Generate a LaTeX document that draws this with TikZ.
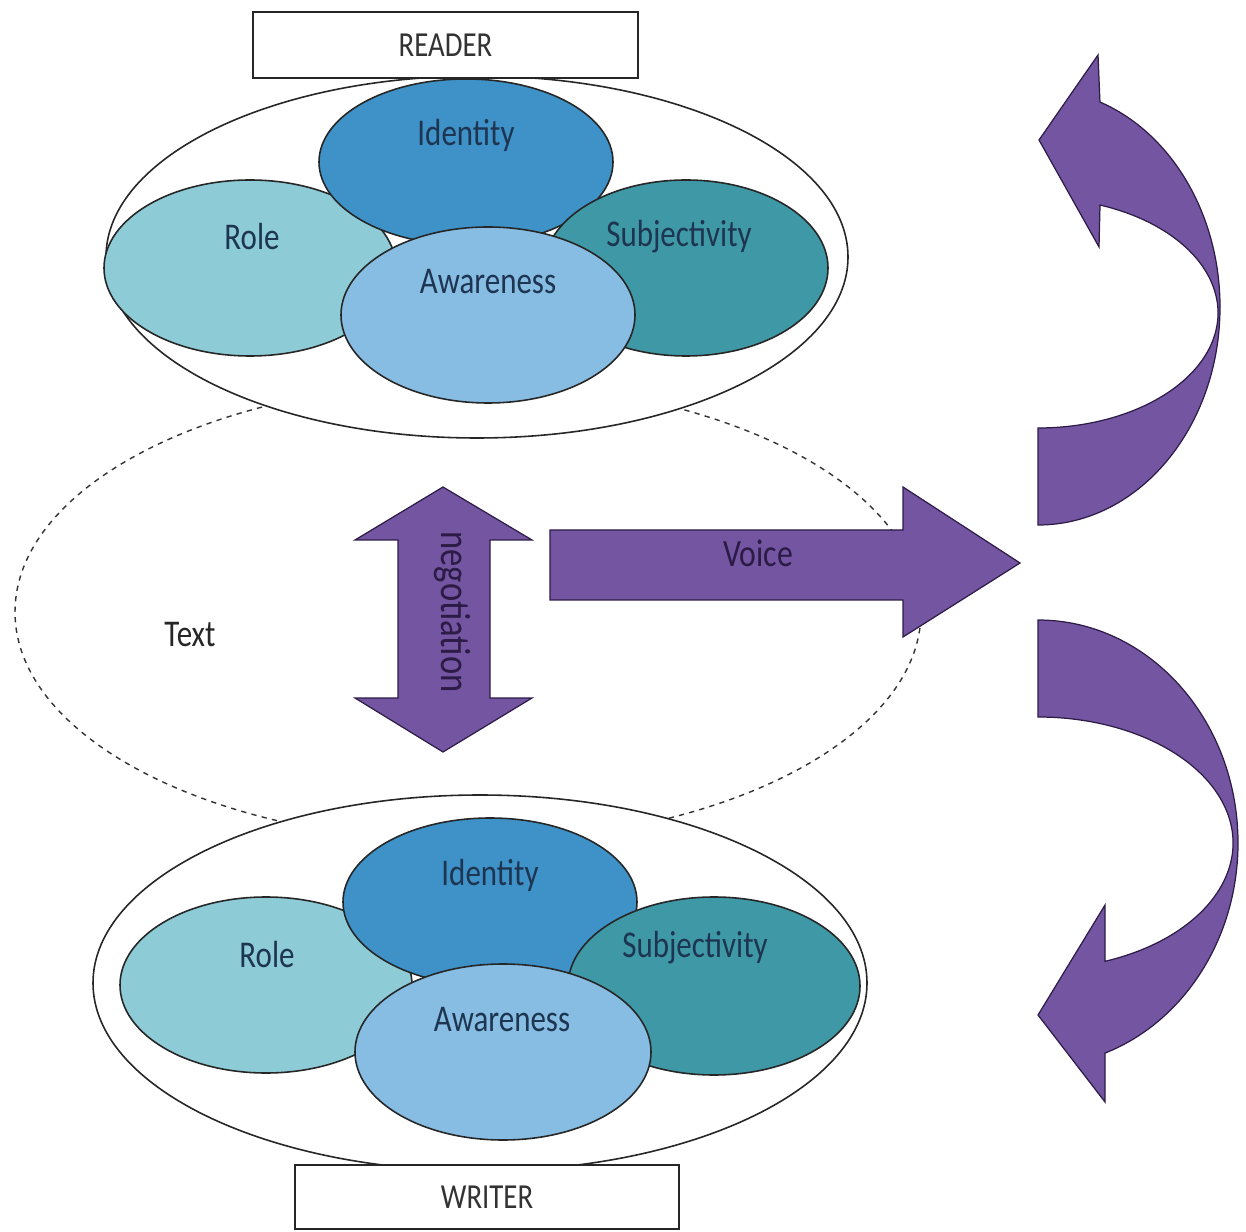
\documentclass[tikz,border=0pt]{standalone}
\usepackage{fontspec}
\setmainfont{Carlito}[FakeStretch=0.82]
\definecolor{rolec}{RGB}{141,203,214}
\definecolor{identc}{RGB}{62,146,199}
\definecolor{subjc}{RGB}{63,152,166}
\definecolor{awarec}{RGB}{135,189,226}
\definecolor{purplec}{RGB}{115,85,162}
\definecolor{purpleline}{RGB}{45,28,70}
\definecolor{labelc}{RGB}{30,53,82}
\definecolor{purpletext}{RGB}{43,27,69}
\tikzset{
  blob/.style={draw=black!85, line width=0.9pt},
  outerell/.style={draw=black!85, fill=white, line width=0.9pt},
  namebox/.style={draw=black!85, fill=white, line width=0.9pt},
  lbl/.style={text=labelc, font=\fontsize{21.5}{24}\selectfont, inner sep=0pt},
  boxlbl/.style={text=black!80, font=\fontsize{20}{24}\selectfont, inner sep=0pt},
  bigarrow/.style={draw=purpleline, fill=purplec, line width=0.7pt, line join=miter},
  arrowlbl/.style={text=purpletext, font=\fontsize{22}{24}\selectfont, inner sep=0pt}
}
\begin{document}
\begin{tikzpicture}[x=0.02cm,y=0.02cm]
\useasboundingbox (0,0) rectangle (1246,1231);
% dashed text ellipse
\draw[dashed, black!80, line width=0.8pt] (468,619) ellipse [x radius=453, y radius=230];
\node[text=black!85, font=\fontsize{21.5}{24}\selectfont, inner sep=0pt] (txt) at (190,596) {Text};

% ---- READER group ----
\draw[outerell] (477,974) ellipse [x radius=371, y radius=181];
\draw[blob, fill=rolec] (250,963) ellipse [x radius=146, y radius=88];
\draw[blob, fill=identc] (466,1069) ellipse [x radius=147, y radius=83];
\draw[blob, fill=subjc] (686,963) ellipse [x radius=142, y radius=88];
\draw[blob, fill=awarec] (488,916) ellipse [x radius=147, y radius=88];
\node[lbl] (rid) at (466,1096) {Identity};
\node[lbl] (rro) at (252,994) {Role};
\node[lbl] (rsu) at (679,994) {Subjectivity};
\node[lbl] (raw) at (488,949) {Awareness};
\draw[namebox] (253,1153) rectangle (638,1219);
\node[boxlbl] (reader) at (445.5,1186) {READER};

% ---- WRITER group ----
\draw[outerell] (480,248) ellipse [x radius=387, y radius=188];
\draw[blob, fill=rolec] (266,246) ellipse [x radius=146, y radius=88];
\draw[blob, fill=identc] (490,329) ellipse [x radius=147, y radius=84];
\draw[blob, fill=subjc] (714,245) ellipse [x radius=146, y radius=89];
\draw[blob, fill=awarec] (503,179) ellipse [x radius=148, y radius=88];
\node[lbl] (wid) at (490,356) {Identity};
\node[lbl] (wro) at (267,276) {Role};
\node[lbl] (wsu) at (695,283) {Subjectivity};
\node[lbl] (waw) at (502,211) {Awareness};
\draw[namebox] (295,2) rectangle (679,66);
\node[boxlbl] (writer) at (487,34) {WRITER};

% ---- negotiation double arrow ----
\draw[bigarrow] (443,744) -- (532,691) -- (490,691) -- (490,533) -- (532,533) -- (443,479)
  -- (355,533) -- (398,533) -- (398,691) -- (355,691) -- cycle;
\node[arrowlbl, font=\fontsize{24}{26}\selectfont, rotate=-90] (neg) at (452,619) {negotiation};

% ---- Voice arrow ----
\draw[bigarrow] (550,701) -- (903,701) -- (903,744) -- (1020,668) -- (903,594) -- (903,631) -- (550,631) -- cycle;
\node[arrowlbl] (voice) at (758,678) {Voice};

% ---- curved arrow up ----
\draw[bigarrow] (1038,706) arc[start angle=-90, end angle=70.1, x radius=182, y radius=218]
  -- (1098,1176) -- (1039,1091) -- (1099,984)
  -- ([shift={(1038,918)}]69.85:180 and 115)
  arc[start angle=69.85, end angle=-90, x radius=180, y radius=115] -- cycle;

% ---- curved arrow down ----
\draw[bigarrow] (1038,611) arc[start angle=90, end angle=-70.4, x radius=200, y radius=223]
  -- (1105,129) -- (1038,216) -- (1105,326)
  -- ([shift={(1038,388)}]-69.9:195 and 126)
  arc[start angle=-69.9, end angle=90, x radius=195, y radius=126] -- cycle;
\end{tikzpicture}
\end{document}
